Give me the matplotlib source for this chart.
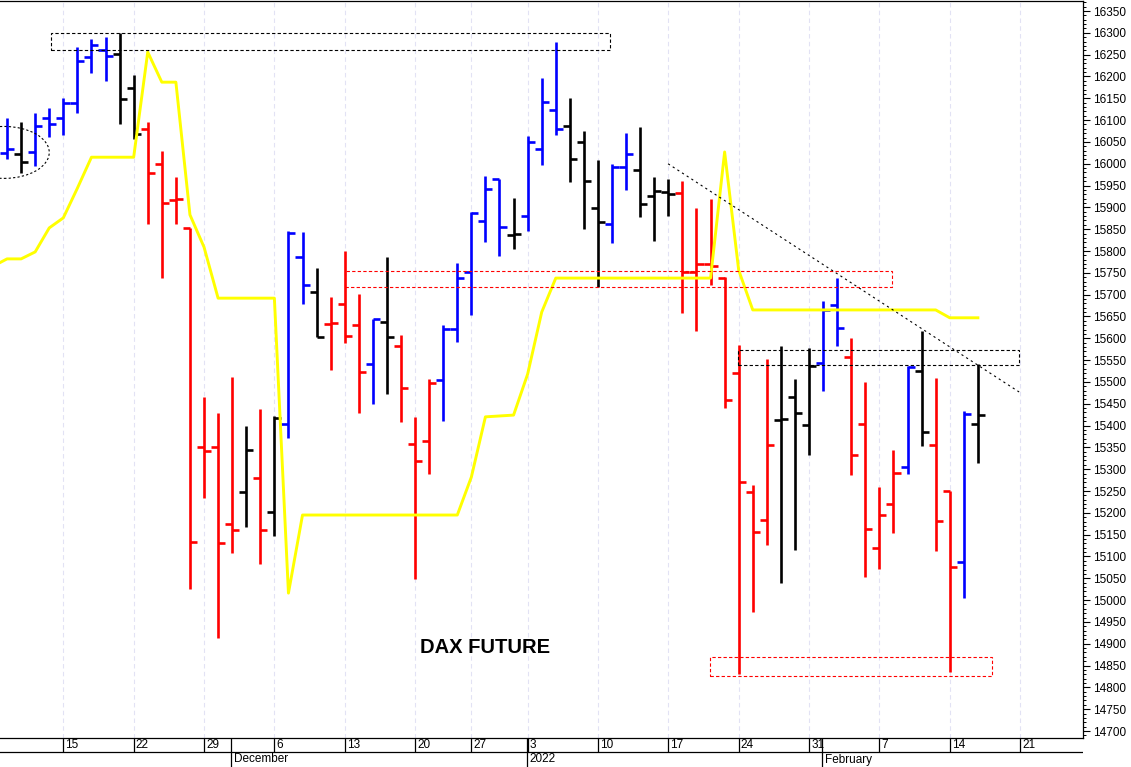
import matplotlib
matplotlib.use("Agg")
import matplotlib.pyplot as plt
from matplotlib.patches import Rectangle, Ellipse
from matplotlib.ticker import MultipleLocator
import pandas as pd

plt.rcParams['font.family'] = ['Liberation Sans', 'DejaVu Sans']

# trading calendar (Eurex closed on the Christmas / New Year Fridays)
holidays = ['2021-12-24', '2021-12-31']
days = pd.bdate_range('2021-11-08', '2022-02-25')
days = days[~days.isin(pd.to_datetime(holidays))]

bar_start = '2021-11-09'
opens = [16025, 16022, 16027, 16105, 16105, 16139, 16245, 16261, 16251, 16174,
         16080, 15999, 15917, 15853, 15351, 15351, 15175, 15248, 15280, 15202,
         15404, 15786, 15706, 15633, 15679, 15630, 15541, 15637, 15582, 15358,
         15365, 15504, 15621, 15752, 15869, 15965, 15837, 15880, 16034, 16123,
         16086, 16050, 15899, 15862, 15993, 15986, 15926, 15935, 15933, 15752,
         15770, 15738, 15520, 15248, 15184, 15413, 15466, 15401, 15543, 15676,
         15557, 15403, 15120, 15220, 15305, 15525, 15355, 15250, 15087, 15403]
highs = [16105, 16096, 16116, 16128, 16151, 16267, 16286, 16290, 16300, 16203,
         16096, 16029, 15970, 15853, 15466, 15429, 15511, 15399, 15438, 15422,
         15846, 15844, 15761, 15695, 15800, 15701, 15644, 15786, 15608, 15420,
         15507, 15630, 15773, 15889, 15972, 15965, 15922, 16064, 16196, 16279,
         16151, 16075, 16009, 15999, 16070, 16084, 15970, 15965, 15961, 15899,
         15919, 15740, 15585, 15264, 15553, 15582, 15507, 15578, 15685, 15738,
         15601, 15500, 15259, 15344, 15536, 15617, 15509, 15250, 15433, 15541]
lows = [16011, 15979, 15995, 16061, 16066, 16116, 16208, 16190, 16091, 16057,
        15862, 15738, 15862, 15025, 15234, 14913, 15108, 15168, 15083, 15147,
        15372, 15679, 15603, 15527, 15589, 15429, 15449, 15472, 15408, 15048,
        15289, 15410, 15592, 15653, 15821, 15789, 15805, 15846, 15997, 16066,
        15958, 15850, 15718, 15818, 15940, 15878, 15823, 15880, 15659, 15617,
        15722, 15440, 14831, 14973, 15126, 15039, 15115, 15333, 15479, 15583,
        15287, 15053, 15071, 15154, 15289, 15353, 15113, 14835, 15005, 15314]
closes = [16034, 16004, 16086, 16091, 16139, 16235, 16272, 16247, 16148, 16068,
          15979, 15910, 15919, 15133, 15342, 15131, 15161, 15344, 15161, 15417,
          15841, 15722, 15603, 15635, 15605, 15523, 15644, 15603, 15486, 15319,
          15498, 15621, 15738, 15887, 15942, 15855, 15839, 16050, 16142, 16080,
          16011, 15960, 15867, 15993, 16022, 15908, 15938, 15931, 15752, 15770,
          15766, 15459, 15271, 15156, 15355, 15415, 15429, 15536, 15665, 15623,
          15333, 15163, 15195, 15291, 15535, 15385, 15181, 15076, 15427, 15424]
bar_colors = list('bkbbbbbbkk'
                  'rrrrrrrkrk'
                  'bbkrrrbkrr'
                  'rbbbbbkbbb'
                  'kkkbbkkkrr'
                  'rrrrrkkkbb'
                  'rrrrbkrrbk')

# yellow indicator line, one value per trading day from 8 Nov
yellow_start = '2021-11-08'
yellow = [15765, 15782, 15782, 15798, 15853, 15876, 15944, 16015, 16015, 16015,
          16015, 16256, 16187, 16187, 15883, 15809, 15692, 15692, 15692, 15692,
          15692, 15016, 15195, 15195, 15195, 15195, 15195, 15195, 15195, 15195,
          15195, 15195, 15195, 15195, 15282, 15420, 15422, 15424, 15518, 15660,
          15738, 15738, 15738, 15738, 15738, 15738, 15738, 15738, 15738, 15738,
          15738, 15738, 16027, 15756, 15665, 15665, 15665, 15665, 15665, 15665,
          15665, 15665, 15665, 15665, 15665, 15665, 15665, 15665, 15647, 15647,
          15647]

# annotation boxes: (x0, x1) in trading-day units, (p0, p1) in price, colour
boxes = [((4.13, 43.86), (16261, 16300), 'black'),
         ((25.0, 63.9), (15717, 15755), 'red'),
         ((52.95, 72.93), (15539, 15573), 'black'),
         ((50.96, 71.0), (14826, 14870), 'red')]
trend_x = [47.98, 72.93]
trend_p = [16000, 15477]

W, H = 1131, 767
fig = plt.figure(figsize=(W / 100, H / 100), dpi=100)
ax = fig.add_axes([0, (H - 738) / H, 1083 / W, 737 / H])
xlim = (0.5, 77.47)
ax.set_xlim(*xlim)
ax.set_ylim(14684, 16373)

b0 = days.get_loc(pd.Timestamp(bar_start))
bx = list(range(b0, b0 + len(opens)))
cmap = {'b': '#0000ff', 'k': '#000000', 'r': '#ff0000'}
cols = [cmap[c] for c in bar_colors]

# weekly grid
mondays = [i for i, d in enumerate(days) if d.weekday() == 0]
for m in mondays:
    ax.axvline(m, color='#e2e2f4', lw=0.8, ls=(0, (4, 3)), zorder=0)

# OHLC bars
ax.vlines(bx, lows, highs, colors=cols, lw=1.9, zorder=2)
ax.hlines(opens, [x - 0.5 for x in bx], bx, colors=cols, lw=1.9, zorder=2)
ax.hlines(closes, bx, [x + 0.5 for x in bx], colors=cols, lw=1.9, zorder=2)

y0 = days.get_loc(pd.Timestamp(yellow_start))
ax.plot(range(y0, y0 + len(yellow)), yellow, color='#ffff00', lw=2.1, zorder=3)

for (xa, xb), (pa, pb), c in boxes:
    ax.add_patch(Rectangle((xa, pa), xb - xa, pb - pa, fill=False, ec=c,
                           lw=0.8, ls=(0, (3, 2)), zorder=4))
ax.plot(trend_x, trend_p, color='black', lw=0.8, ls=(0, (2, 3)), zorder=4)
ax.add_patch(Ellipse((0.8, 16026), 6.4, 119, fill=False, ec='black',
                     lw=0.8, ls=(0, (2, 2)), zorder=4))

ax.text(35.0, 14891, 'DAX FUTURE', ha='center', va='center',
        fontsize=14.5, fontweight='bold')

# axes styling
ax.set_xticks([])
ax.spines['left'].set_visible(False)
for s in ('top', 'right', 'bottom'):
    ax.spines[s].set_linewidth(0.9)
ax.yaxis.tick_right()
ax.yaxis.set_major_locator(MultipleLocator(50))
ax.yaxis.set_minor_locator(MultipleLocator(10))
ax.tick_params(axis='y', which='major', length=5, width=0.8, labelsize=8.5, pad=2)
ax.tick_params(axis='y', which='minor', length=2.5, width=0.7)

# date strip below the chart
ax2 = fig.add_axes([0, 0, 1083 / W, (H - 738) / H])
ax2.set_xlim(*xlim)
ax2.set_ylim(0, 29)
ax2.axis('off')
ax2.axhline(15, color='black', lw=0.9)
for m in mondays:
    if m < xlim[0]:
        continue
    ax2.vlines(m, 15, 29, color='black', lw=0.9)
    ax2.text(m + 0.15, 22, str(days[m].day), ha='left', va='center', fontsize=8.5)
month_labels = {'2021-12-01': 'December', '2022-01-03': '2022', '2022-02-01': 'February'}
for d, lab in month_labels.items():
    p = days.get_loc(pd.Timestamp(d))
    ax2.vlines(p - 0.05, 0, 29, color='black', lw=0.9)
    ax2.text(p + 0.1, 7.5, lab, ha='left', va='center', fontsize=8.5)

fig.savefig('out.png', dpi=100)
